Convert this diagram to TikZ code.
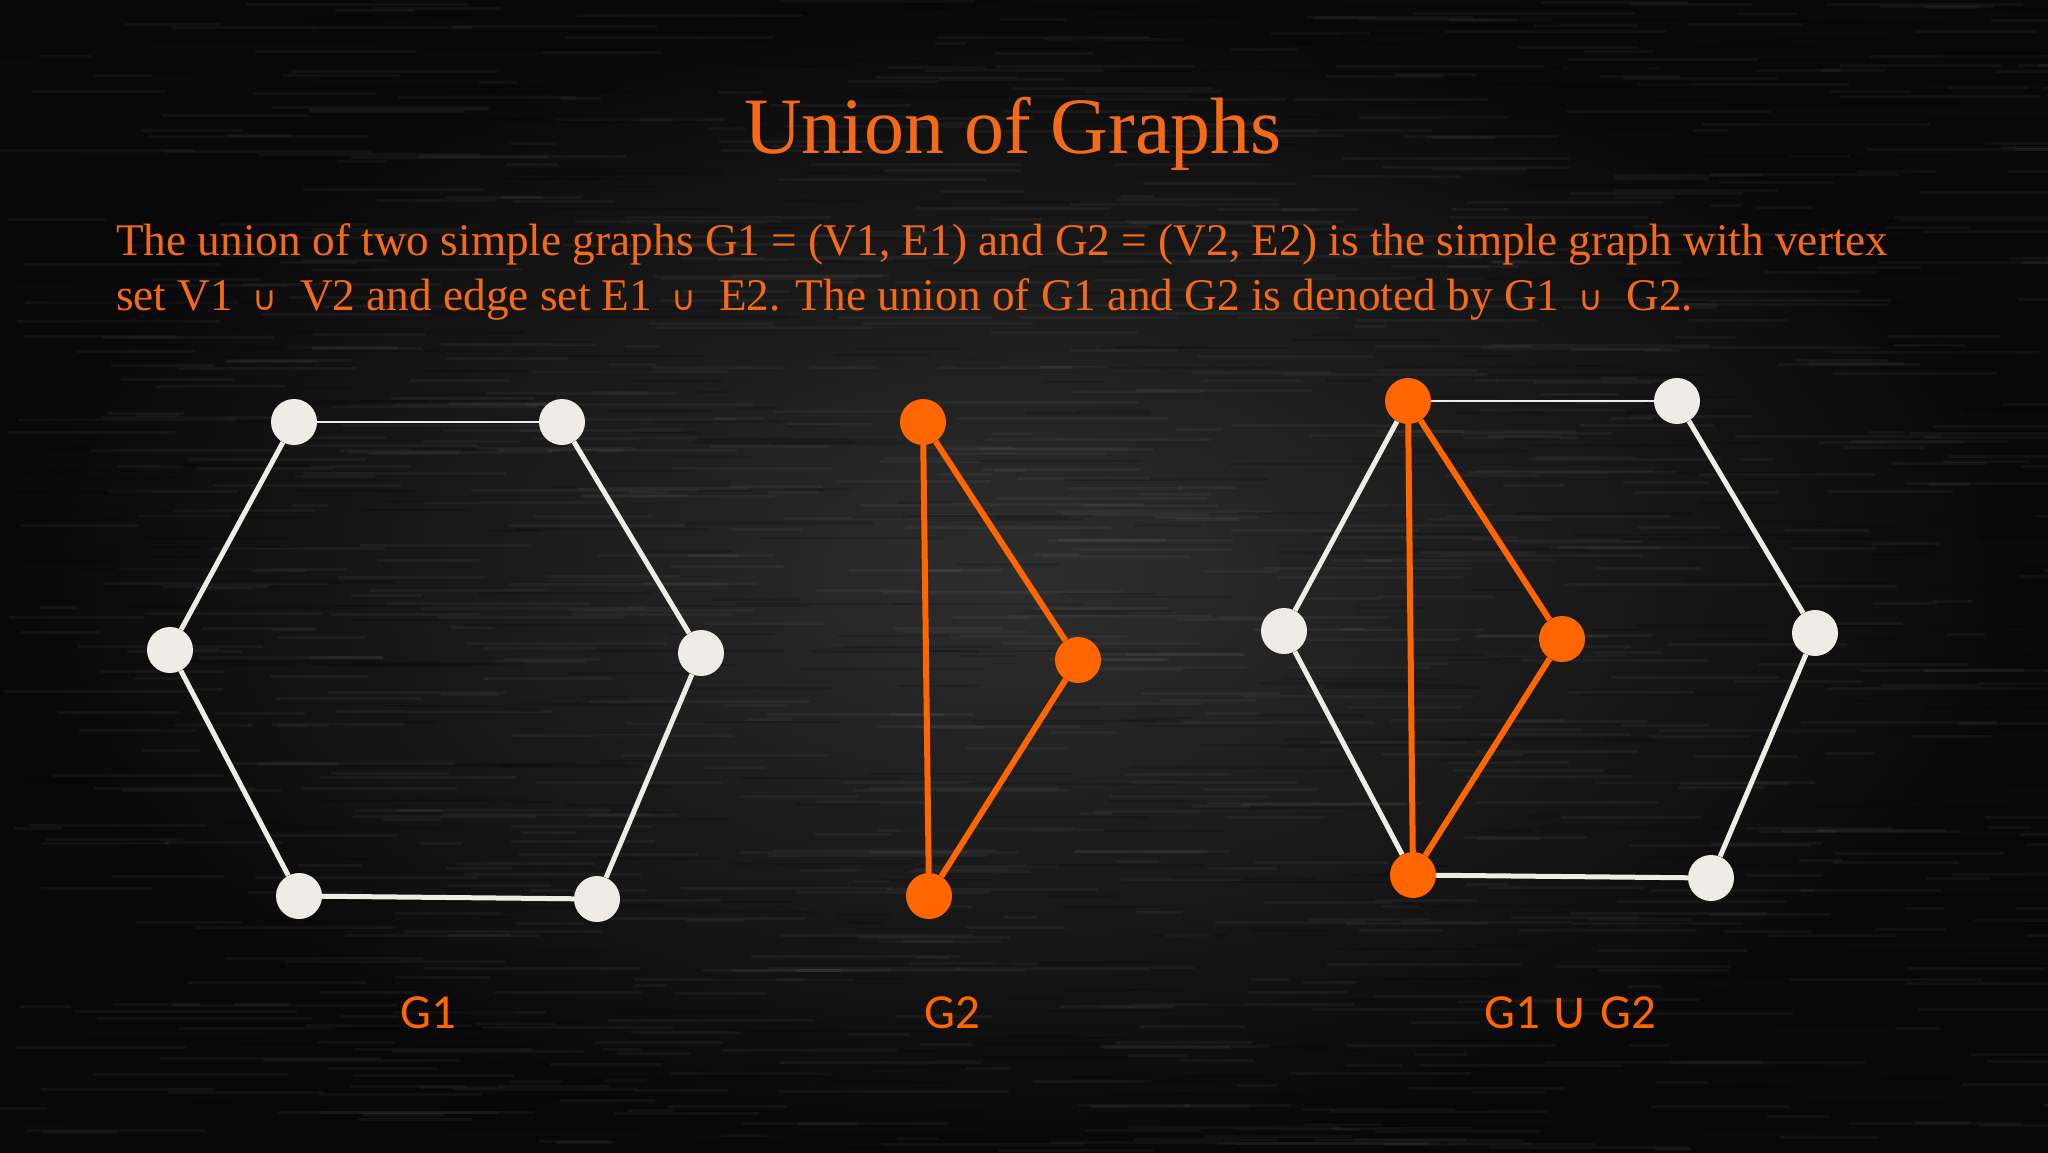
\documentclass[tikz,border=0pt]{standalone}
\usepackage{fontspec}
\setmainfont{Liberation Serif}
\newfontfamily\labelfont{Carlito}
\newfontfamily\symfont{DejaVu Sans}

\definecolor{accent}{RGB}{255,102,0}
\definecolor{txtorange}{RGB}{244,106,22}
\definecolor{vwhite}{RGB}{238,236,228}
\definecolor{bgin}{RGB}{46,46,46}
\definecolor{bgout}{RGB}{8,8,8}

\newcommand{\cupsym}{\hspace{8pt}{\symfont\fontsize{34}{34}\selectfont ∪}}

\begin{document}
\begin{tikzpicture}[x=1pt,y=-1pt,
  vtx/.style={circle,minimum size=46pt,inner sep=0pt},
  wv/.style={vtx,fill=vwhite},
  ov/.style={vtx,fill=accent},
  wedge/.style={draw=vwhite,line width=5pt},
  thinedge/.style={draw=vwhite,line width=2.6pt},
  oedge/.style={draw=accent,line width=6pt},
  bodytext/.style={anchor=base west,inner sep=0pt,text=txtorange,font=\fontsize{45.3}{55}\selectfont},
  gl/.style={anchor=base,inner sep=0pt,text=accent,font=\labelfont\fontsize{49}{56}\selectfont},
]
\useasboundingbox (0,0) rectangle (2048,1152);
\shade[inner color=bgin, outer color=bgout] (0,0) rectangle (2048,1152);
% wood-like texture
\pgfmathsetseed{7}
\foreach \i in {1,...,900}{
  \pgfmathsetmacro{\xx}{rnd*2048}
  \pgfmathsetmacro{\yy}{rnd*1152}
  \pgfmathsetmacro{\ll}{30+rnd*200}
  \draw[white,opacity=0.04,line width=3pt] (\xx,\yy) -- ++(\ll,0);
}
\foreach \i in {1,...,500}{
  \pgfmathsetmacro{\xx}{rnd*2048}
  \pgfmathsetmacro{\yy}{rnd*1152}
  \pgfmathsetmacro{\ll}{30+rnd*200}
  \draw[black,opacity=0.15,line width=2.5pt] (\xx,\yy) -- ++(\ll,0);
}

% title and text
\node[anchor=base,inner sep=0pt,text=txtorange,font=\fontsize{80}{90}\selectfont] (title) at (1013,153) {Union of Graphs};
\node[bodytext] (line1) at (116,255) {The union of two simple graphs G1 = (V1, E1) and G2 = (V2, E2) is the simple graph with vertex};
\node[bodytext] (line2) at (116,310) {set V1\ \cupsym\ \ V2 and edge set E1\ \cupsym\ \ E2. The union of G1 and G2 is denoted by G1\ \cupsym\ \ G2.};

% G1
\node[wv] (a1) at (294,422) {};
\node[wv] (a2) at (562,422) {};
\node[wv] (a3) at (701,653) {};
\node[wv] (a4) at (597,899) {};
\node[wv] (a5) at (299,896) {};
\node[wv] (a6) at (170,650) {};
\draw[thinedge] (a1) -- (a2);
\draw[wedge] (a2) -- (a3);
\draw[wedge] (a3) -- (a4);
\draw[wedge] (a4) -- (a5);
\draw[wedge] (a5) -- (a6);
\draw[wedge] (a6) -- (a1);

% G2
\node[ov] (b1) at (923,422) {};
\node[ov] (b2) at (1078,660) {};
\node[ov] (b3) at (929,896) {};
\draw[oedge] (b1) -- (b2);
\draw[oedge] (b2) -- (b3);
\draw[oedge] (b3) -- (b1);

% G1 U G2
\node[ov] (c1) at (1408,401) {};
\node[wv] (c2) at (1677,401) {};
\node[wv] (c3) at (1815,633) {};
\node[wv] (c4) at (1711,878) {};
\node[ov] (c5) at (1413,875) {};
\node[wv] (c6) at (1284,631) {};
\node[ov] (c7) at (1562,639) {};
\draw[thinedge] (c1) -- (c2);
\draw[wedge] (c2) -- (c3);
\draw[wedge] (c3) -- (c4);
\draw[wedge] (c4) -- (c5);
\draw[wedge] (c5) -- (c6);
\draw[wedge] (c6) -- (c1);
\draw[oedge] (c1) -- (c7);
\draw[oedge] (c7) -- (c5);
\draw[oedge] (c5) -- (c1);

% labels
\node[gl] (l1) at (428,1028) {G1};
\node[gl] (l2) at (952,1028) {G2};
\node[gl] (l3) at (1570,1028) {G1 {\symfont\fontsize{52}{52}\selectfont ∪} G2};
\end{tikzpicture}
\end{document}
